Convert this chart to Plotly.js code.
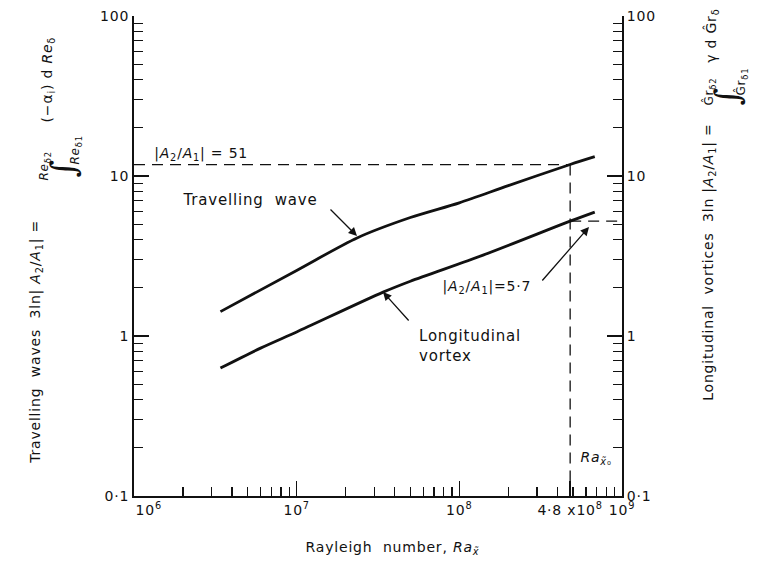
<!DOCTYPE html>
<html>
<head>
<meta charset="utf-8">
<script src="https://cdn.plot.ly/plotly-3.0.1.min.js"></script>
<style>
  html, body { margin: 0; padding: 0; background: #fff; }
  #chart { width: 758px; height: 563px; }
  #chart svg text { letter-spacing: 0.8px; }
</style>
</head>
<body>
<div id="chart"></div>
<script>
// Travelling-wave amplification 3 ln|A2/A1| against Rayleigh number
const raTravelling   = [3.4e6, 1e7, 2.35e7, 5e7, 1e8, 2e8, 4.8e8, 6.8e8];
const travellingWave = [1.42, 2.57, 4.1, 5.5, 6.8, 8.7, 11.8, 13.2];

// Longitudinal-vortex amplification against Rayleigh number
const raVortex           = [3.4e6, 6e6, 1e7, 3.4e7, 5e7, 1.4e8, 4.8e8, 6.8e8];
const longitudinalVortex = [0.63, 0.84, 1.06, 1.88, 2.2, 3.2, 5.22, 5.95];

// Transition point and the amplitude ratios reached there
const raCritical     = 4.8e8;
const ampRatioWave   = 51;
const ampRatioVortex = 5.7;

// Tick labels
const xTickVals = [1e6, 1e7, 1e8, 4.8e8, 1e9];
const xTickText = ['\u2003\u200310<sup>6</sup>', '10<sup>7</sup>', '10<sup>8</sup>', '4·8 x10<sup>8</sup>', '10<sup>9</sup>'];
const yTickVals = [0.1, 1, 10, 100];
const yTickText = ['0·1', '1', '10', '100'];

// minor ticks at 2..9 of every decade
function decadeMinors(decades) {
  const out = [];
  decades.forEach(d => { for (let k = 2; k <= 9; k++) out.push(k * d); });
  return out;
}
const xMinor = decadeMinors([1e6, 1e7, 1e8]);
const yMinor = decadeMinors([0.1, 1, 10]);

const levelWave   = 3 * Math.log(ampRatioWave);    // 3 ln 51
const levelVortex = 3 * Math.log(ampRatioVortex);  // 3 ln 5.7

const FONT = 'DejaVu Sans, sans-serif';
const SERIF = 'DejaVu Serif, serif';
const INK = '#111';

// plot-area frame in pixels, used to place free text around the axes
const L = 134, R = 622, T = 16, B = 496;
const px = x => (x - L) / (R - L);
const py = y => (B - y) / (B - T);

const axisBase = {
  type: 'log', showgrid: false, zeroline: false,
  showline: true, linecolor: INK, linewidth: 2,
  ticks: 'inside', ticklen: 15, tickwidth: 1.5, tickcolor: INK,
  tickfont: { family: FONT, size: 14, color: INK },
  tickmode: 'array'
};
const minorBase = { ticks: 'inside', ticklen: 9, tickwidth: 1.3, tickcolor: INK, tickmode: 'array' };

const dash = { color: INK, width: 1.3, dash: '11px,7px' };
const solid = { color: INK, width: 2.8, shape: 'spline', smoothing: 0.8 };

const traces = [
  { x: raTravelling, y: travellingWave, mode: 'lines', line: solid, hoverinfo: 'skip' },
  { x: raVortex, y: longitudinalVortex, mode: 'lines', line: solid, yaxis: 'y2', hoverinfo: 'skip' },
  { x: [1e6, raCritical], y: [levelWave, levelWave], mode: 'lines', line: dash, hoverinfo: 'skip' },
  { x: [raCritical, raCritical], y: [levelWave, 0.1], mode: 'lines', line: dash, hoverinfo: 'skip' },
  { x: [raCritical, 1e9], y: [levelVortex, levelVortex], mode: 'lines', line: dash, yaxis: 'y2', hoverinfo: 'skip' }
];

const txt = (text, x, y, extra) => Object.assign({
  text: text, xref: 'paper', yref: 'paper', x: px(x), y: py(y),
  xanchor: 'center', yanchor: 'middle',
  showarrow: false, font: { family: FONT, size: 14, color: INK }
}, extra || {});

const rot = (text, x, y, size, extra) => txt(text, x, y, Object.assign({
  textangle: -90, font: { family: FONT, size: size, color: INK }
}, extra || {}));

const integralSign = (x, y) => rot('∫', x, y, 34, { font: { family: SERIF, size: 34, color: INK } });

const arrow = (tipX, tipY, tailX, tailY) => ({
  text: '', xref: 'paper', yref: 'paper', x: px(tipX), y: py(tipY),
  ax: tailX - tipX, ay: tailY - tipY, showarrow: true,
  arrowhead: 2, arrowsize: 1.3, arrowwidth: 1.3, arrowcolor: INK
});

const annotations = [
  txt('|<i>A</i><sub>2</sub>/<i>A</i><sub>1</sub>| = ' + ampRatioWave, 201, 154),
  txt('Travelling  wave', 250, 200, { font: { family: FONT, size: 15, color: INK } }),
  arrow(357, 236, 329, 208),
  txt('Longitudinal<br>vortex', 417, 346, { xanchor: 'left', align: 'left', font: { family: FONT, size: 15, color: INK } }),
  arrow(383, 292, 410, 322),
  txt('|<i>A</i><sub>2</sub>/<i>A</i><sub>1</sub>|=5·7', 487, 287),
  arrow(589, 227, 541, 282),
  txt('<i>Ra</i><sub><i>x̃</i>₀</sub>', 596, 458),
  txt('Rayleigh  number, <i>Ra</i><sub><i>x̃</i></sub>', 392, 548),

  // left axis title with its integral
  rot('Travelling  waves  3ln| <i>A</i><sub>2</sub>/<i>A</i><sub>1</sub>| =', 36, 342, 14),
  integralSign(63, 168),
  rot('<i>Re</i><sub>δ2</sub>', 45, 166, 12),
  rot('<i>Re</i><sub>δ1</sub>', 76, 150, 12),
  rot('(−α<sub>i</sub>) d <i>Re</i><sub>δ</sub>', 48, 80, 14),

  // right axis title with its integral
  rot('Longitudinal  vortices  3ln |<i>A</i><sub>2</sub>/<i>A</i><sub>1</sub>| =', 709, 262, 14),
  integralSign(727, 96),
  rot('Ĝr<sub>δ2</sub>', 709, 92, 12),
  rot('Ĝr<sub>δ1</sub>', 742, 82, 12),
  rot('γ d Ĝr<sub>δ</sub>', 712, 36, 14)
];

const layout = {
  width: 758, height: 563,
  margin: { l: L, r: 758 - R, t: T, b: 563 - B },
  paper_bgcolor: '#fff', plot_bgcolor: '#fff',
  showlegend: false,
  font: { family: FONT, color: INK },
  xaxis: Object.assign({}, axisBase, {
    range: [6, 9], tickvals: xTickVals, ticktext: xTickText, tickangle: 0,
    minor: Object.assign({}, minorBase, { tickvals: xMinor })
  }),
  yaxis: Object.assign({}, axisBase, {
    range: [-1, 2], tickvals: yTickVals, ticktext: yTickText,
    minor: Object.assign({}, minorBase, { tickvals: yMinor })
  }),
  yaxis2: Object.assign({}, axisBase, {
    range: [-1, 2], tickvals: yTickVals, ticktext: yTickText,
    overlaying: 'y', side: 'right',
    minor: Object.assign({}, minorBase, { tickvals: yMinor })
  }),
  annotations: annotations
};

Plotly.newPlot('chart', traces, layout, { staticPlot: true, displayModeBar: false });
</script>
</body>
</html>
